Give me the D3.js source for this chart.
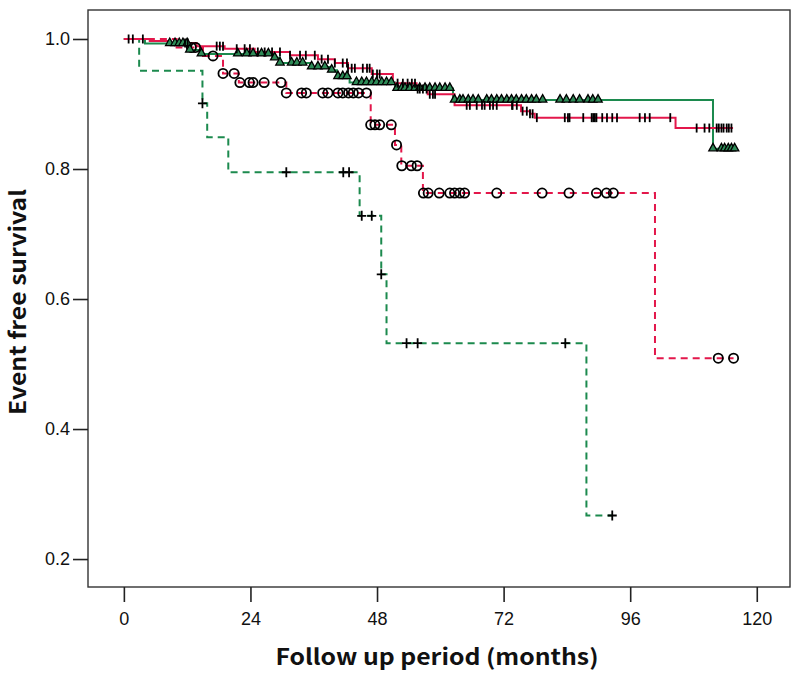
<!DOCTYPE html>
<html><head><meta charset="utf-8">
<script src="https://cdn.jsdelivr.net/npm/d3@7"></script>
<style>
html,body{margin:0;padding:0;background:#fff;}
svg{display:block;}
</style></head>
<body>
<svg id="chart" width="800" height="676"></svg>
<script>
// ---------- DATA (months, survival) ----------
const xTicks = [0, 24, 48, 72, 96, 120];
const yTicks = [0.2, 0.4, 0.6, 0.8, 1.0];

// Red solid (censor "|")
const redSolidTimes = [4.9, 8.7, 13.8, 19.1, 24.8, 31.5, 36.8, 40.0, 42.5, 47.0, 51.0, 55.5, 57.6, 62.7, 75.3, 77.0, 77.9, 104.6];
const redSolidSurv  = [0.997, 0.994, 0.989, 0.985, 0.980, 0.975, 0.969, 0.963, 0.955, 0.946, 0.932, 0.923, 0.915, 0.898, 0.889, 0.885, 0.879, 0.863];
const redSolidEnd = 115.5;
const redSolidCensor = [0.9, 1.7, 3.6, 11.6, 12.1, 17.6, 18.2, 18.8, 21.4, 22.9, 23.9, 25.4, 26.7, 28.1, 29.6, 31.5, 33.4, 34.5, 36.2, 37.5, 38.7, 40.0,
  41.5, 42.3, 42.5, 43.2, 43.8, 45.3, 46.1, 46.6, 47.2, 48.0, 48.5, 51.9, 52.9, 53.8, 54.6, 55.2, 55.7, 56.1, 56.7, 57.4, 58.0, 58.6, 59.0,
  65.0, 65.6, 66.9, 67.9, 68.4, 69.4, 70.0, 70.7, 73.6, 73.7, 74.5, 75.6, 76.4, 77.0, 77.5, 78.3, 83.6, 84.2, 84.5, 87.1, 88.7, 89.0, 89.3, 89.6,
  90.7, 91.6, 92.6, 93.5, 97.8, 98.8, 99.7, 103.6, 108.6, 110.1, 111.0, 112.4, 112.8, 113.3, 113.7, 114.3, 114.7, 115.2];

// Green solid (censor triangles)
const greenSolidTimes = [4.0, 12.3, 14.4, 28.6, 29.6, 35.3, 39.1, 40.4, 42.8, 51.4, 62.4, 111.7];
const greenSolidSurv  = [0.993, 0.983, 0.977, 0.971, 0.963, 0.957, 0.952, 0.942, 0.933, 0.924, 0.906, 0.831];
const greenSolidEnd = 115.8;
const greenSolidCensor = [8.7, 9.7, 10.5, 11.2, 12.0, 12.5, 14.7, 21.6, 23.3, 24.5, 26.1, 27.4, 28.6, 29.6, 31.8, 32.8, 33.9, 35.6, 36.8, 38.1, 39.4,
  40.6, 41.5, 42.3, 44.1, 45.1, 46.0, 47.0, 47.9, 48.9, 49.8, 50.7, 51.8, 52.7, 53.3, 54.2, 55.2, 56.1, 57.1, 58.0, 59.0, 59.9, 60.9, 61.8,
  62.7, 63.7, 64.3, 65.3, 66.2, 67.2, 68.8, 69.7, 70.7, 71.6, 72.6, 73.5, 74.4, 75.4, 76.3, 77.3, 78.2, 79.4, 82.7, 83.9, 85.2, 86.4, 88.0,
  88.9, 89.9, 111.7, 113.3, 113.9, 114.6, 115.2, 115.8];

// Red dashed (censor circles)
const redDashTimes = [10.0, 15.0, 18.8, 21.8, 30.8, 46.8, 51.4, 52.6, 56.7, 100.7];
const redDashSurv  = [0.987, 0.974, 0.947, 0.933, 0.917, 0.868, 0.837, 0.805, 0.763, 0.509];
const redDashEnd = 115.6;
const redDashCensor = [12.8, 13.6, 16.9, 18.8, 20.9, 22.0, 23.8, 24.5, 26.6, 29.8, 30.8, 33.7, 34.6, 37.7, 38.7, 40.6, 41.5, 42.6, 43.5, 44.5, 46.0,
  46.8, 47.6, 48.5, 50.7, 51.7, 52.7, 54.5, 55.6, 56.8, 57.7, 59.8, 61.8, 62.7, 63.7, 64.6, 70.7, 79.3, 84.4, 89.6, 91.5, 92.8, 112.7, 115.6];

// Green dashed (censor "+")
const greenDashTimes = [2.9, 14.9, 15.8, 19.8, 44.7, 48.8, 49.8, 87.7];
const greenDashSurv  = [0.951, 0.901, 0.849, 0.795, 0.728, 0.638, 0.532, 0.267];
const greenDashEnd = 92.6;
const greenDashCensor = [14.9, 30.8, 41.6, 42.7, 45.1, 47.0, 48.8, 53.6, 55.7, 83.7, 92.6];

// ---------- DRAW ----------
const RED = "#e3174b", GREEN = "#1c8a4e";
const svg = d3.select("#chart");
const L = 88, R = 790, T = 10, B = 587;
const x = d3.scaleLinear().domain([-6.8, 126.3]).range([L, R]);
const y = d3.scaleLinear().domain([0.157, 1.0446]).range([B, T]);

function stepPoints(times, surv, end) {
  const pts = [[0, 1]];
  times.forEach((t, i) => pts.push([t, surv[i]]));
  pts.push([end, surv[surv.length - 1]]);
  return pts;
}
function survAt(times, surv, t) {
  let s = 1;
  for (let i = 0; i < times.length; i++) if (times[i] <= t + 1e-9) s = surv[i];
  return s;
}
const line = d3.line().x(d => x(d[0])).y(d => y(d[1])).curve(d3.curveStepAfter);

const series = [
  {times: redDashTimes, surv: redDashSurv, end: redDashEnd, color: RED, dash: "7,5", censor: redDashCensor, mark: "circle"},
  {times: greenDashTimes, surv: greenDashSurv, end: greenDashEnd, color: GREEN, dash: "7,5", censor: greenDashCensor, mark: "plus"},
  {times: greenSolidTimes, surv: greenSolidSurv, end: greenSolidEnd, color: GREEN, dash: null, censor: greenSolidCensor, mark: "tri"},
  {times: redSolidTimes, surv: redSolidSurv, end: redSolidEnd, color: RED, dash: null, censor: redSolidCensor, mark: "bar"}
];

const g = svg.append("g");
series.forEach(s => {
  g.append("path")
    .attr("d", line(stepPoints(s.times, s.surv, s.end)))
    .attr("fill", "none").attr("stroke", s.color).attr("stroke-width", 2)
    .attr("stroke-dasharray", s.dash);
});

const marks = svg.append("g");
series.forEach(s => {
  const grp = marks.append("g");
  s.censor.forEach(t => {
    const cx = x(t), cy = y(survAt(s.times, s.surv, t));
    if (s.mark === "circle") {
      grp.append("circle").attr("cx", cx).attr("cy", cy).attr("r", 4.6)
        .attr("fill", "none").attr("stroke", "#000").attr("stroke-width", 1.8);
    } else if (s.mark === "plus") {
      grp.append("path").attr("d", `M${cx-4.5},${cy}H${cx+4.5}M${cx},${cy-5}V${cy+5}`)
        .attr("stroke", "#000").attr("stroke-width", 1.8);
    } else if (s.mark === "tri") {
      grp.append("path").attr("d", `M${cx-4.2},${cy+2}L${cx+4.2},${cy+2}L${cx},${cy-5.5}Z`)
        .attr("fill", "#2e8b57").attr("stroke", "#000").attr("stroke-width", 1.3);
    } else {
      grp.append("path").attr("d", `M${cx},${cy-4.5}V${cy+4.5}`)
        .attr("stroke", "#000").attr("stroke-width", 1.8);
    }
  });
});

// frame
svg.append("rect").attr("x", L).attr("y", T).attr("width", R - L).attr("height", B - T)
  .attr("fill", "none").attr("stroke", "#333").attr("stroke-width", 1.4);

// axes
const yAxis = svg.append("g").attr("transform", `translate(${L},0)`)
  .call(d3.axisLeft(y).tickValues(yTicks).tickFormat(d3.format(".1f")).tickSize(15).tickPadding(3));
const xAxis = svg.append("g").attr("transform", `translate(0,${B})`)
  .call(d3.axisBottom(x).tickValues(xTicks).tickFormat(d3.format("d")).tickSize(15).tickPadding(10));
[yAxis, xAxis].forEach(a => {
  a.select(".domain").remove();
  a.selectAll(".tick line").attr("stroke", "#222").attr("stroke-width", 1.6);
  a.selectAll(".tick text").attr("fill", "#111")
    .style("font-family", "'Liberation Sans', Arial, sans-serif").style("font-size", "18px");
});

// titles
svg.append("text").attr("x", 437).attr("y", 665).attr("text-anchor", "middle")
  .attr("textLength", 323).attr("lengthAdjust", "spacingAndGlyphs")
  .style("font-family", "'Noto Sans CJK JP', 'DejaVu Sans', sans-serif").style("font-size", "22px").style("font-weight", "bold")
  .attr("fill", "#111").text("Follow up period (months)");
svg.append("text").attr("transform", "translate(26,302) rotate(-90)").attr("text-anchor", "middle")
  .attr("textLength", 226).attr("lengthAdjust", "spacingAndGlyphs")
  .style("font-family", "'Noto Sans CJK JP', 'DejaVu Sans', sans-serif").style("font-size", "22px").style("font-weight", "bold")
  .attr("fill", "#111").text("Event free survival");
</script>
</body></html>
